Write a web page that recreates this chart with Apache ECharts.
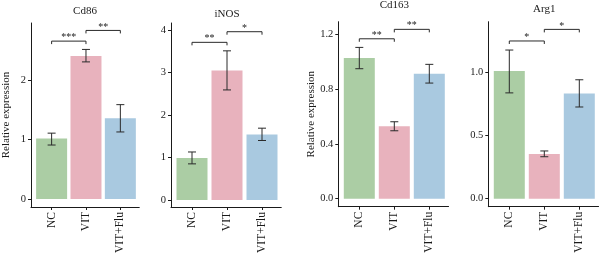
<!DOCTYPE html>
<html>
<head>
<meta charset="utf-8">
<script src="https://cdn.jsdelivr.net/npm/echarts@6/dist/echarts.min.js"></script>
<style>
  html, body { margin: 0; padding: 0; background: #fff; }
  #chart { width: 600px; height: 256px; }
</style>
</head>
<body>
<div id="chart"></div>
<script>
const categories = ['NC', 'VIT', 'VIT+Flu']
const panelTitles = ['Cd86', 'iNOS', 'Cd163', 'Arg1']

// bar heights
const cd86Mean = [1.02, 2.41, 1.36]
const inosMean = [0.99, 3.05, 1.54]
const cd163Mean = [1.03, 0.53, 0.915]
const arg1Mean = [1.013, 0.355, 0.836]

// error bars [low, high]
const cd86Err = [[0.91, 1.11], [2.31, 2.52], [1.13, 1.59]]
const inosErr = [[0.85, 1.13], [2.59, 3.51], [1.40, 1.69]]
const cd163Err = [[0.951, 1.107], [0.497, 0.563], [0.846, 0.983]]
const arg1Err = [[0.84, 1.18], [0.333, 0.379], [0.728, 0.944]]

// significance brackets [from, to, height, mark]
const cd86Sig = [[0, 1, 2.66, '***'], [1, 2, 2.84, '**']]
const inosSig = [[0, 1, 3.71, '**'], [1, 2, 3.96, '*']]
const cd163Sig = [[0, 1, 1.17, '**'], [1, 2, 1.239, '**']]
const arg1Sig = [[0, 1, 1.252, '*'], [1, 2, 1.344, '*']]

// y tick values
const cd86Ticks = [0, 1, 2]
const inosTicks = [0, 1, 2, 3, 4]
const cd163Ticks = [0, 0.4, 0.8, 1.2]
const arg1Ticks = [0, 0.5, 1.0]

const barColors = ['#abcda4', '#e8b2bd', '#a9c9e0']
const font = 'Liberation Serif'

const panels = [
  { mean: cd86Mean, err: cd86Err, sig: cd86Sig, ticks: cd86Ticks, digits: 0,
    left: 29, top: 23, bottom: 208, min: -0.134, max: 2.965, titleY: 6, yName: true },
  { mean: inosMean, err: inosErr, sig: inosSig, ticks: inosTicks, digits: 0,
    left: 171, top: 23, bottom: 207, min: -0.165, max: 4.165, titleY: 9, yName: false },
  { mean: cd163Mean, err: cd163Err, sig: cd163Sig, ticks: cd163Ticks, digits: 1,
    left: 338.3, top: 21.7, bottom: 206.7, min: -0.0585, max: 1.295, titleY: 0, yName: true },
  { mean: arg1Mean, err: arg1Err, sig: arg1Sig, ticks: arg1Ticks, digits: 1,
    left: 488.3, top: 21.7, bottom: 206.7, min: -0.0635, max: 1.405, titleY: 4, yName: false }
]

const chart = echarts.init(document.getElementById('chart'))

const grid = [], xAxis = [], yAxis = [], series = [], title = []

panels.forEach((p, i) => {
  grid.push({ left: p.left, top: p.top, width: 110.25, height: p.bottom - p.top })
  title.push({
    text: panelTitles[i],
    left: p.left + 56,
    top: p.titleY,
    textAlign: 'center',
    padding: 0,
    textStyle: { fontFamily: font, fontSize: 11, fontWeight: 'normal', color: '#1a1a1a' }
  })
  xAxis.push({
    type: 'value', gridIndex: i, min: -0.6, max: 2.55,
    splitLine: { show: false },
    axisLine: { onZero: false, lineStyle: { color: '#1a1a1a', width: 1 } },
    axisTick: { customValues: [0, 1, 2], length: 3, lineStyle: { color: '#1a1a1a' } },
    axisLabel: {
      customValues: [0, 1, 2], rotate: 90, margin: 5,
      formatter: v => categories[Math.round(v)],
      fontFamily: font, fontSize: 11.5, color: '#1a1a1a'
    }
  })
  yAxis.push({
    type: 'value', gridIndex: i, min: p.min, max: p.max,
    name: p.yName ? 'Relative expression' : '',
    nameLocation: 'middle', nameGap: 19,
    nameTextStyle: { fontFamily: font, fontSize: 11, color: '#1a1a1a' },
    splitLine: { show: false },
    axisLine: { onZero: false, lineStyle: { color: '#1a1a1a', width: 1 } },
    axisTick: { customValues: p.ticks, length: 3, lineStyle: { color: '#1a1a1a' } },
    axisLabel: {
      customValues: p.ticks, margin: 5,
      formatter: v => v.toFixed(p.digits),
      fontFamily: font, fontSize: 10.5, color: '#1a1a1a'
    }
  })
  series.push({
    type: 'bar', xAxisIndex: i, yAxisIndex: i, barWidth: 31,
    data: p.mean.map((v, k) => ({ value: [k, v], itemStyle: { color: barColors[k] } })),
    silent: true
  })
  series.push({
    type: 'custom', xAxisIndex: i, yAxisIndex: i,
    data: p.err.map((e, k) => [k, e[0], e[1]]),
    encode: { x: 0, y: [1, 2] },
    renderItem: (params, api) => {
      const lo = api.coord([api.value(0), api.value(1)])
      const hi = api.coord([api.value(0), api.value(2)])
      const w = 4
      const st = { stroke: '#2a2a2a', lineWidth: 1 }
      return {
        type: 'group',
        children: [
          { type: 'line', shape: { x1: lo[0], y1: lo[1], x2: hi[0], y2: hi[1] }, style: st },
          { type: 'line', shape: { x1: hi[0] - w, y1: hi[1], x2: hi[0] + w, y2: hi[1] }, style: st },
          { type: 'line', shape: { x1: lo[0] - w, y1: lo[1], x2: lo[0] + w, y2: lo[1] }, style: st }
        ]
      }
    },
    z: 5, silent: true
  })
  series.push({
    type: 'custom', xAxisIndex: i, yAxisIndex: i,
    data: p.sig.map(s => [s[0], s[1], s[2]]),
    encode: { x: [0, 1], y: 2 },
    renderItem: (params, api) => {
      const a = api.coord([api.value(0), api.value(2)])
      const b = api.coord([api.value(1), api.value(2)])
      const st = { stroke: '#2a2a2a', lineWidth: 1 }
      const mark = p.sig[params.dataIndex][3]
      return {
        type: 'group',
        children: [
          { type: 'line', shape: { x1: a[0], y1: a[1], x2: b[0], y2: b[1] }, style: st },
          { type: 'line', shape: { x1: a[0], y1: a[1], x2: a[0], y2: a[1] + 3 }, style: st },
          { type: 'line', shape: { x1: b[0], y1: b[1], x2: b[0], y2: b[1] + 3 }, style: st },
          { type: 'text', x: (a[0] + b[0]) / 2, y: a[1] + 1.5,
            style: { text: mark, align: 'center', verticalAlign: 'bottom',
              font: '10px "' + font + '"', fill: '#1a1a1a' } }
        ]
      }
    },
    z: 5, silent: true
  })
})

chart.setOption({
  animation: false,
  title, grid, xAxis, yAxis, series
})
</script>
</body>
</html>
